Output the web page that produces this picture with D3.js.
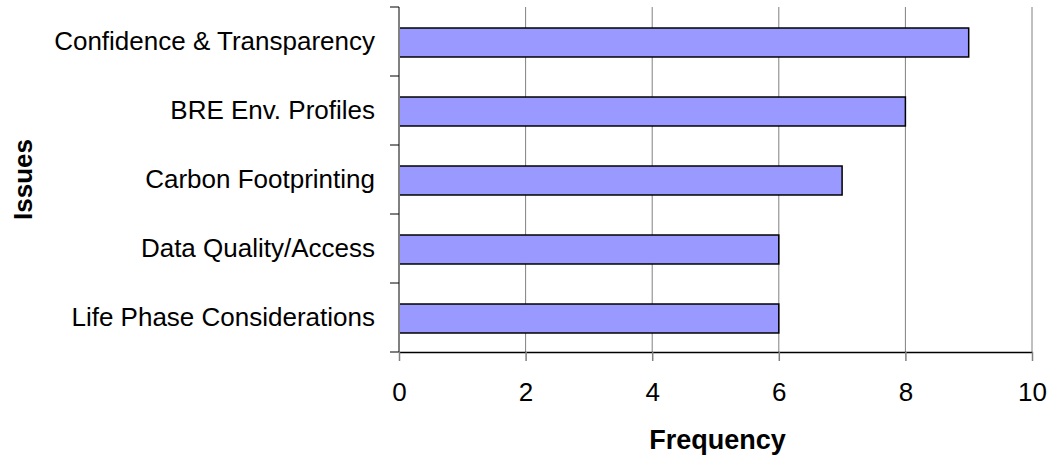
<!DOCTYPE html>
<html>
<head>
<meta charset="utf-8">
<script src="https://cdn.jsdelivr.net/npm/d3@7"></script>
<style>
  body { margin: 0; background: #fff; }
  svg { font-family: "Liberation Sans", Arial, sans-serif; }
</style>
</head>
<body>
<div id="chart"></div>
<script>
// data
const issues = ["Confidence & Transparency", "BRE Env. Profiles", "Carbon Footprinting", "Data Quality/Access", "Life Phase Considerations"];
const frequency = [9, 8, 7, 6, 6];
const xTicks = [0, 2, 4, 6, 8, 10];

const width = 1050, height = 456;
const margin = {top: 7, right: 18, bottom: 104, left: 399};
const innerW = 633, innerH = 345;
const fs = 26;

const svg = d3.select("#chart").append("svg")
  .attr("width", width)
  .attr("height", height);

const g = svg.append("g")
  .attr("transform", `translate(${margin.left},${margin.top})`);

const x = d3.scaleLinear().domain([0, 10]).range([0, innerW]);
const y = d3.scaleBand().domain(issues).range([0, innerH]).paddingInner(0.58).paddingOuter(0.29);
const band = d3.scaleBand().domain(issues).range([0, innerH]);

// gridlines
g.append("g")
  .selectAll("line")
  .data(xTicks.slice(1))
  .join("line")
    .attr("x1", d => x(d)).attr("x2", d => x(d))
    .attr("y1", 0).attr("y2", innerH)
    .attr("stroke", "#808080")
    .attr("stroke-width", 1);

// bars
g.append("g")
  .selectAll("rect")
  .data(issues)
  .join("rect")
    .attr("x", 0)
    .attr("y", d => y(d) + 1)
    .attr("width", (d, i) => x(frequency[i]))
    .attr("height", y.bandwidth())
    .attr("fill", "#9999ff")
    .attr("stroke", "#000")
    .attr("stroke-width", 1.5);

// y axis: line + ticks between categories
const yEdges = issues.map(d => band(d)).concat([innerH]);
g.append("line")
  .attr("x1", 0).attr("x2", 0)
  .attr("y1", 0).attr("y2", innerH)
  .attr("stroke", "#808080").attr("stroke-width", 2);
g.append("g")
  .selectAll("line")
  .data(yEdges)
  .join("line")
    .attr("x1", -9).attr("x2", 0)
    .attr("y1", d => d).attr("y2", d => d)
    .attr("stroke", "#000").attr("stroke-width", 1);

g.append("g")
  .selectAll("text")
  .data(issues)
  .join("text")
    .attr("x", -24)
    .attr("y", d => band(d) + band.bandwidth() / 2)
    .attr("dy", "0.32em")
    .attr("text-anchor", "end")
    .attr("font-size", fs)
    .text(d => d);

// x axis
const xAxis = g.append("g")
  .attr("transform", `translate(0,${innerH})`)
  .call(d3.axisBottom(x).tickValues(xTicks).tickSize(9).tickPadding(22).tickSizeOuter(0));
xAxis.select(".domain").attr("stroke", "#000").attr("stroke-width", 1.5);
xAxis.selectAll(".tick line").attr("stroke", "#808080").attr("stroke-width", 1.5);
xAxis.selectAll(".tick text")
  .attr("font-size", fs)
  .attr("font-family", "Liberation Sans, Arial, sans-serif")
  .attr("fill", "#000");

// axis titles
svg.append("text")
  .attr("x", margin.left + innerW / 2 + 2)
  .attr("y", 449)
  .attr("text-anchor", "middle")
  .attr("font-size", 27)
  .attr("font-weight", "bold")
  .text("Frequency");

svg.append("text")
  .attr("transform", `translate(32,${margin.top + innerH / 2}) rotate(-90)`)
  .attr("text-anchor", "middle")
  .attr("font-size", 26)
  .attr("font-weight", "bold")
  .text("Issues");
</script>
</body>
</html>
